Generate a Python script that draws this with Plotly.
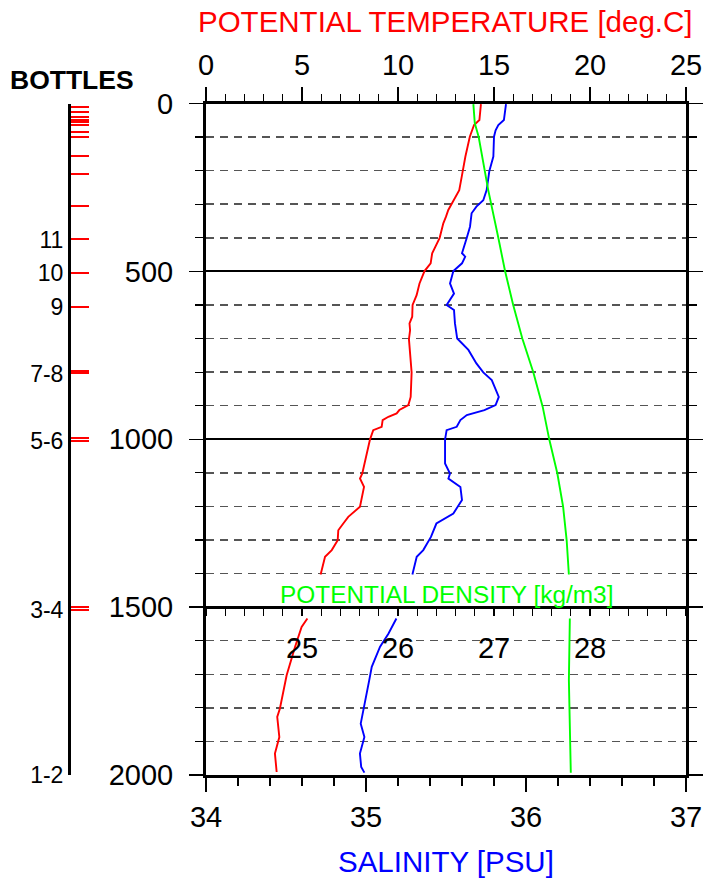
import plotly.graph_objects as go

# ---------------- data ----------------
temp_depth = [2, 49, 64, 99, 158, 201, 218, 258, 297, 317, 337, 357, 400, 446, 476, 499, 536, 571, 600, 635, 655, 675, 702,
              801, 874, 898, 913, 923, 933, 943, 963, 973, 1001, 1052, 1102, 1117, 1142, 1201, 1231, 1251, 1271, 1301, 1330,
              1350, 1403, None,
              1534, 1559, 1618, 1703, 1802, 1827, 1887, 1936, 1991]
temp_vals = [14.32, 14.24, 13.96, 13.74, 13.51, 13.40, 13.32, 13.19, 12.84, 12.62, 12.50, 12.36, 12.17, 11.78, 11.70, 11.38,
             11.12, 10.97, 10.76, 10.74, 10.60, 10.63, 10.57,
             10.71, 10.66, 10.54, 10.07, 9.93, 9.50, 9.20, 9.15, 8.71, 8.54, 8.32, 8.14, 8.02, 8.23, 8.02, 7.41, 7.15, 6.89,
             6.86, 6.55, 6.20, 5.97, None,
             5.28, 4.98, 4.64, 4.20, 3.85, 3.71, 3.82, 3.59, 3.68]

sal_depth = [2, 30, 49, 64, 80, 99, 158, 201, 258, 288, 307, 327, 367, 400, 446, 456, 476, 499, 536, 566, 600, 615, 655, 700,
             734, 774, 801, 824, 874, 898, 913, 928, 943, 963, 973, 1001, 1072, 1102, 1117, 1142, 1181, 1221, 1251, 1291,
             1330, 1350, 1403, None,
             1534, 1579, 1618, 1678, 1718, 1797, 1847, 1887, 1936, 1976, 1993]
sal_vals = [35.875, 35.870, 35.862, 35.827, 35.810, 35.800, 35.796, 35.771, 35.754, 35.733, 35.690, 35.660, 35.650, 35.630,
            35.600, 35.620, 35.600, 35.546, 35.525, 35.550, 35.504, 35.550, 35.556, 35.570,
            35.640, 35.690, 35.733, 35.786, 35.830, 35.810, 35.740, 35.630, 35.590, 35.567, 35.504, 35.494, 35.494, 35.525,
            35.515, 35.590, 35.600, 35.546, 35.440, 35.406, 35.358, 35.317, 35.290, None,
            35.190, 35.140, 35.088, 35.036, 35.020, 34.990, 34.967, 34.990, 34.962, 34.970, 34.990]

dens_depth = [2, 59, 99, 201, 258, 400, 499, 600, 700, 801, 903, 1001, 1102, 1201, 1301, 1403, None,
              1534, 1718, 1993]
dens_vals = [26.785, 26.800, 26.840, 26.906, 26.940, 27.045, 27.115, 27.200, 27.295, 27.410, 27.507, 27.576, 27.660,
             27.720, 27.757, 27.780, None,
             27.790, 27.780, 27.800]

bottle_depths = [10, 25, 40, 50, 55, 65, 85, 100, 155, 210, 305, 405, 505, 605, 796, 804, 996, 1004, 1501, 1509, 2000]
bottle_labels = ["", "", "", "", "", "", "", "", "", "", "", "11", "10", "9", "", "7-8", "", "5-6", "", "3-4", "1-2"]

depth_ticks = [0, 500, 1000, 1500, 2000]
temp_ticks = [0, 5, 10, 15, 20, 25]
sal_ticks = [34, 35, 36, 37]
dens_ticks = [25, 26, 27, 28]

# ---------------- layout geometry ----------------
W, H = 705, 879
FONT = "Arial, Liberation Sans, sans-serif"


def PX(px):
    return px / W


def PY(py):
    return 1 - py / H


x0, x1 = PX(206), PX(686)
y0, y1 = PY(775), PY(103.5)
dens_pos = y0 + (y1 - y0) * 0.25  # depth 1500 on reversed 0..2000 axis

fig = go.Figure()
fig.add_trace(go.Scatter(x=sal_vals, y=sal_depth, mode="lines", line=dict(color="#0000FF", width=1.9),
                         xaxis="x", yaxis="y", connectgaps=False, showlegend=False))
fig.add_trace(go.Scatter(x=temp_vals, y=temp_depth, mode="lines", line=dict(color="#FF0000", width=1.9),
                         xaxis="x2", yaxis="y", connectgaps=False, showlegend=False))
fig.add_trace(go.Scatter(x=dens_vals, y=dens_depth, mode="lines", line=dict(color="#00FF00", width=1.9),
                         xaxis="x3", yaxis="y", connectgaps=False, showlegend=False))
# invisible trace to instantiate bottles axes
fig.add_trace(go.Scatter(x=[0], y=[0], mode="markers", marker=dict(opacity=0), xaxis="x4", yaxis="y2",
                         showlegend=False, hoverinfo="skip"))

tickfont = dict(family=FONT, size=29, color="black")

fig.update_layout(
    width=W, height=H, margin=dict(l=0, r=0, t=0, b=0),
    paper_bgcolor="white", plot_bgcolor="white",
    font=dict(family=FONT, color="black"),
    xaxis=dict(domain=[x0, x1], range=[34, 37], anchor="y", side="bottom",
               tickvals=sal_ticks, ticks="outside", ticklen=14, tickwidth=1.5, tickcolor="black",
               minor=dict(dtick=0.2, tick0=34, ticks="outside", ticklen=8, tickwidth=1.2, tickcolor="black", showgrid=False),
               showline=True, linewidth=3, linecolor="black", showgrid=False, zeroline=False,
               tickfont=tickfont, ticklabelstandoff=0, automargin=False),
    xaxis2=dict(domain=[x0, x1], range=[0, 25], overlaying="x", anchor="y", side="top",
                tickvals=temp_ticks, ticks="outside", ticklen=14, tickwidth=1.5, tickcolor="black",
                minor=dict(dtick=1, tick0=0, ticks="outside", ticklen=7, tickwidth=1.2, tickcolor="black", showgrid=False),
                showline=True, linewidth=3, linecolor="black", showgrid=False, zeroline=False,
                tickfont=tickfont, ticklabelstandoff=0, automargin=False),
    xaxis3=dict(domain=[x0, x1], range=[24, 29], overlaying="x", anchor="free", position=dens_pos, side="bottom",
                tickvals=dens_ticks, ticks="outside", ticklen=7, tickwidth=1.2, tickcolor="black",
                minor=dict(dtick=0.2, tick0=24, ticks="outside", ticklen=7, tickwidth=1.2, tickcolor="black", showgrid=False),
                showline=True, linewidth=3, linecolor="black", showgrid=False, zeroline=False,
                tickfont=tickfont, ticklabelstandoff=7, automargin=False),
    yaxis=dict(domain=[y0, y1], range=[2000, 0], anchor="x", side="left",
               tickvals=depth_ticks, ticks="outside", ticklen=14, tickwidth=1.5, tickcolor="black",
               minor=dict(dtick=100, tick0=0, ticks="outside", ticklen=8, tickwidth=1.2, tickcolor="black",
                          showgrid=True, gridcolor="#555555", gridwidth=1.5, griddash="8px,6px"),
               showgrid=True, gridcolor="black", gridwidth=2,
               showline=True, linewidth=3, linecolor="black", mirror="ticks", zeroline=False,
               tickfont=tickfont, ticklabelstandoff=10, automargin=False),
    xaxis4=dict(domain=[PX(71), PX(100)], range=[0, 1], anchor="y2", visible=False, automargin=False),
    yaxis2=dict(domain=[y0, y1], range=[2000, 0], anchor="x4", side="left",
                tickvals=bottle_depths, ticktext=bottle_labels, ticks="inside", ticklen=18, tickwidth=2,
                tickcolor="#FF0000", showline=True, linewidth=3, linecolor="black", showgrid=False, zeroline=False,
                tickfont=dict(family=FONT, size=23, color="black"), ticklabelstandoff=0, automargin=False),
    annotations=[
        dict(text="POTENTIAL TEMPERATURE [deg.C]", x=PX(445), y=PY(22), xref="paper", yref="paper",
             xanchor="center", yanchor="middle", showarrow=False, font=dict(family=FONT, size=29.5, color="#FF0000")),
        dict(text="SALINITY [PSU]", x=PX(445.5), y=PY(861), xref="paper", yref="paper",
             xanchor="center", yanchor="middle", showarrow=False, font=dict(family=FONT, size=29.5, color="#0000FF")),
        dict(text="POTENTIAL DENSITY [kg/m3]", x=PX(446), y=PY(594), xref="paper", yref="paper",
             xanchor="center", yanchor="middle", showarrow=False, font=dict(family=FONT, size=24.4, color="#00FF00")),
        dict(text="<b>BOTTLES</b>", x=PX(71.5), y=PY(80.5), xref="paper", yref="paper",
             xanchor="center", yanchor="middle", showarrow=False, font=dict(family=FONT, size=26.5, color="black")),
    ],
)

fig.write_html("out.html", config={"displayModeBar": False, "staticPlot": True},
               post_script="document.body.style.margin='0';document.body.style.overflow='hidden';")
